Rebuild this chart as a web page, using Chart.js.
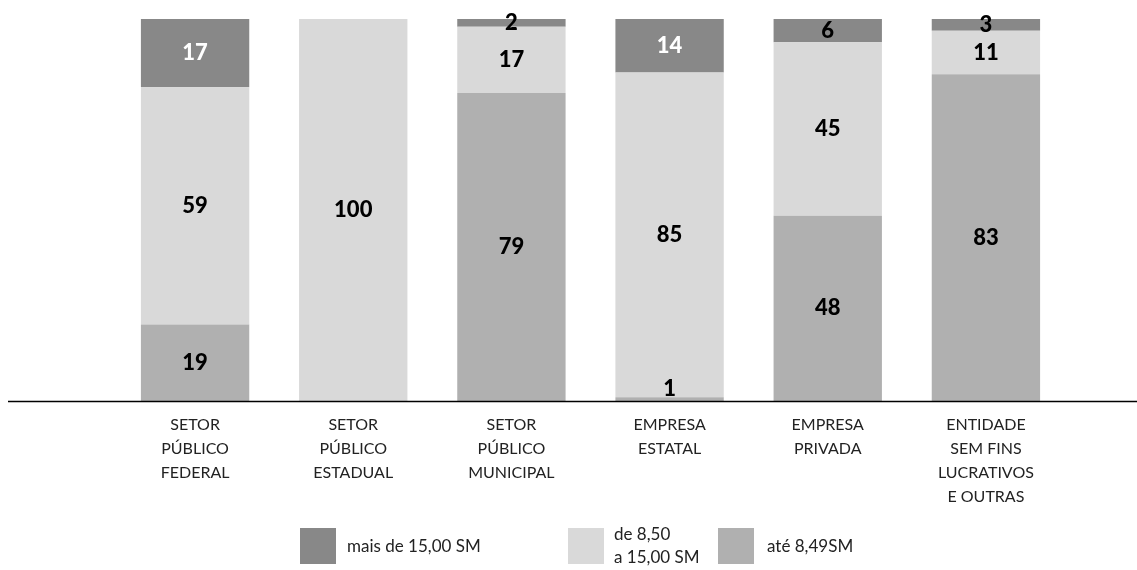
<!DOCTYPE html>
<html>
<head>
<meta charset="utf-8">
<script src="https://cdn.jsdelivr.net/npm/chart.js@4"></script>
<style>
  html, body { margin: 0; padding: 0; background: #fff; }
  #wrap { width: 1137px; height: 570px; }
</style>
</head>
<body>
<div id="wrap"><canvas id="chart" width="1137" height="570"></canvas></div>
<script>
const categories = [
    ['SETOR', 'PÚBLICO', 'FEDERAL'],
    ['SETOR', 'PÚBLICO', 'ESTADUAL'],
    ['SETOR', 'PÚBLICO', 'MUNICIPAL'],
    ['EMPRESA', 'ESTATAL'],
    ['EMPRESA', 'PRIVADA'],
    ['ENTIDADE', 'SEM FINS', 'LUCRATIVOS', 'E OUTRAS'],
];
// legend order (top of the stack first)
const seriesNames = ['mais de 15,00 SM', ['de 8,50', 'a 15,00 SM'], 'até 8,49SM'];
const seriesColors = ['#888888', '#d9d9d9', '#b0b0b0'];
const maisDe15 = [17, null, 2, 14, 6, 3];
const de850a15 = [59, 100, 17, 85, 45, 11];
const ate849 = [19, null, 79, 1, 48, 83];

const raw = [maisDe15, de850a15, ate849];
const totals = categories.map((c, i) => raw.reduce((s, arr) => s + (arr[i] || 0), 0));
const share = arr => arr.map((v, i) => v == null ? null : v / totals[i] * 100);
// stack from the bottom: até 8,49 first
const stackOrder = [2, 1, 0];

const FONT_NUM = '900 22px Lato';

const valueLabels = {
    id: 'valueLabels',
    afterDatasetsDraw(chart) {
        const ctx = chart.ctx;
        const base = chart.scales.y.getPixelForValue(0);
        ctx.save();
        ctx.font = FONT_NUM;
        ctx.textAlign = 'center';
        ctx.textBaseline = 'middle';
        chart.data.datasets.forEach((ds, di) => {
            const k = stackOrder[di];
            chart.getDatasetMeta(di).data.forEach((bar, i) => {
                const v = raw[k][i];
                if (v == null) return;
                let y = (bar.y + bar.base) / 2;
                y = Math.min(y, base - 12);
                ctx.fillStyle = (k === 0 && v >= 10) ? '#ffffff' : '#000000';
                ctx.fillText(String(v), bar.x, y);
            });
        });
        ctx.restore();
    }
};

const baseLine = {
    id: 'baseLine',
    afterDraw(chart) {
        const ctx = chart.ctx;
        const y = Math.round(chart.scales.y.getPixelForValue(0)) + 0.5;
        ctx.save();
        ctx.strokeStyle = '#000';
        ctx.lineWidth = 1.5;
        ctx.beginPath();
        ctx.moveTo(8, y);
        ctx.lineTo(chart.width, y);
        ctx.stroke();
        ctx.restore();
    }
};

const legendBoxes = {
    id: 'legendBoxes',
    afterDraw(chart) {
        const ctx = chart.ctx;
        const items = [
            { x: 300, tx: 347 },
            { x: 568, tx: 614 },
            { x: 718, tx: 767 },
        ];
        ctx.save();
        ctx.font = '17px Lato';
        ctx.textBaseline = 'middle';
        ctx.textAlign = 'left';
        items.forEach((it, k) => {
            ctx.fillStyle = seriesColors[k];
            ctx.fillRect(it.x, 528, 36, 36);
            ctx.fillStyle = '#222';
            const name = seriesNames[k];
            if (Array.isArray(name)) {
                ctx.fillText(name[0], it.tx, 535);
                ctx.fillText(name[1], it.tx, 558);
            } else {
                ctx.fillText(name, it.tx, 547);
            }
        });
        ctx.restore();
    }
};

new Chart(document.getElementById('chart').getContext('2d'), {
    type: 'bar',
    data: {
        labels: categories,
        datasets: stackOrder.map(k => ({
            label: Array.isArray(seriesNames[k]) ? seriesNames[k].join(' ') : seriesNames[k],
            data: share(raw[k]),
            backgroundColor: seriesColors[k],
            borderWidth: 0,
            categoryPercentage: 1,
            barPercentage: 0.685,
        })),
    },
    options: {
        responsive: false,
        animation: false,
        layout: { padding: { left: 116, right: 72, top: 19, bottom: 0 } },
        plugins: {
            legend: { display: false },
            tooltip: { enabled: false },
        },
        scales: {
            x: {
                stacked: true,
                grid: { display: false, drawTicks: false },
                border: { display: false },
                ticks: {
                    color: '#222',
                    font: { family: 'Lato', size: 16, lineHeight: 1.5 },
                    padding: 12,
                    maxRotation: 0,
                    autoSkip: false,
                },
                afterFit(scale) { scale.height = 169; },
            },
            y: {
                stacked: true,
                display: false,
                min: 0,
                max: 100,
            },
        },
    },
    plugins: [valueLabels, baseLine, legendBoxes],
});
</script>
</body>
</html>
